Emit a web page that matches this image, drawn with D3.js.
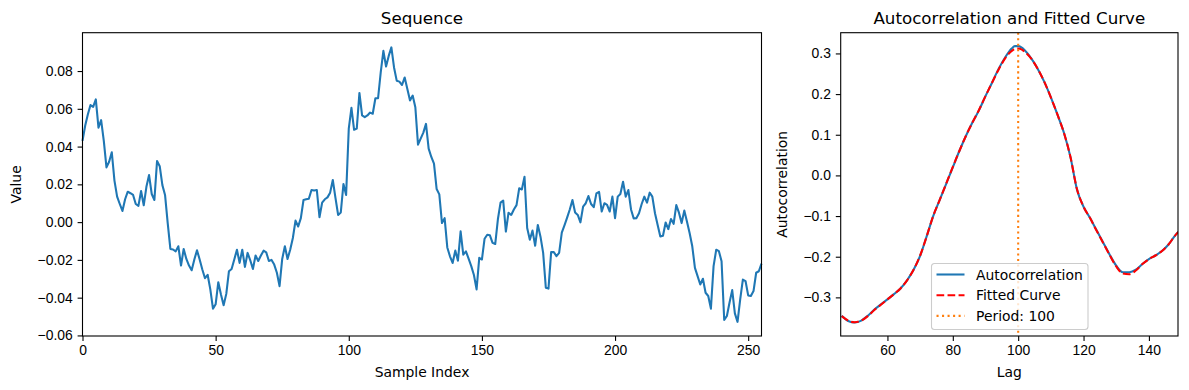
<!DOCTYPE html>
<html>
<head>
<meta charset="utf-8">
<script src="https://cdn.jsdelivr.net/npm/d3@7"></script>
<style>
  body { margin: 0; background: #fff; }
  svg { font-family: "DejaVu Sans", sans-serif; }
  .tick text { font-size: 13.9px; fill: #000; }
  .tick line { stroke: #000; stroke-width: 1.1; }
  .domain { stroke: none; }
</style>
</head>
<body>
<div class="chart"></div>
<script>
var svgWidth = 1189;
var svgHeight = 390;

// Sequence values, one per sample index
var seqValues = [
  0.043, 0.051, 0.057, 0.062, 0.061, 0.065, 0.050, 0.054, 0.043, 0.029,
  0.032, 0.037, 0.022, 0.0135, 0.0096, 0.0059, 0.0121, 0.0161, 0.0153, 0.0144,
  0.0096, 0.0086, 0.0165, 0.0089, 0.0187, 0.0249, 0.0149, 0.0117, 0.0324, 0.0296,
  0.0196, 0.0144, -0.0005, -0.0142, -0.0145, -0.0155, -0.0128, -0.023, -0.0142, -0.0195,
  -0.023, -0.0255, -0.0198, -0.0149, -0.0198, -0.0251, -0.0297, -0.0279, -0.0356, -0.0458,
  -0.0435, -0.0318, -0.0383, -0.044, -0.038, -0.026, -0.0248, -0.0198, -0.0146, -0.0216,
  -0.0146, -0.0237, -0.0163, -0.0202, -0.0248, -0.0177, -0.0206, -0.0177, -0.0151, -0.016,
  -0.0206, -0.02, -0.0225, -0.0268, -0.0339, -0.0195, -0.0128, -0.0195, -0.0146, -0.0084,
  0.0008, -0.0023, 0.0021, 0.0117, 0.0121, 0.0124, 0.017, 0.0167, 0.017, 0.0026,
  0.0103, 0.0121, 0.0131, 0.0156, 0.0223, 0.0128, 0.0038, 0.0051, 0.0202, 0.0144,
  0.0495, 0.0605, 0.0489, 0.0495, 0.0684, 0.0565, 0.0556, 0.0565, 0.058, 0.0574,
  0.0656, 0.0656, 0.0793, 0.0907, 0.0824, 0.088, 0.0925, 0.0819, 0.0749, 0.0744,
  0.0726, 0.0766, 0.0705, 0.0644, 0.067, 0.0608, 0.041, 0.0442, 0.0474, 0.052,
  0.0389, 0.0345, 0.031, 0.0175, 0.0147, -0.0005, 0.0021, -0.0134, -0.0181, -0.0216,
  -0.0151, -0.0204, -0.0049, -0.0172, -0.0155, -0.0193, -0.0233, -0.028, -0.0356, -0.0189,
  -0.0198, -0.0088, -0.0067, -0.007, -0.011, -0.0116, 0.0015, 0.0103, 0.0114, -0.005,
  0.005, 0.0038, 0.0067, 0.009, 0.0179, 0.0173, 0.024, -0.0031, -0.0093, -0.0045,
  -0.0125, -0.0015, -0.0077, -0.0163, -0.0347, -0.0352, -0.0159, -0.0159, -0.018, -0.0163,
  -0.0056, -0.0017, 0.0024, 0.0067, 0.0117, 0.0051, 0.0038, -0.0001, 0.0082, 0.01,
  0.0138, 0.0096, 0.0079, 0.0152, 0.016, 0.0056, 0.01, 0.0091, 0.0056, 0.0135,
  0.0021, 0.0135, 0.0149, 0.0214, 0.0135, 0.017, 0.0067, 0.002, 0.0021, 0.0047,
  0.0096, 0.0135, 0.0103, 0.0156, 0.0135, 0.0047, -0.0015, -0.0076, -0.0072, -0.0002,
  -0.0037, 0.0016, -0.0009, 0.009, 0.005, -0.0005, 0.0061, 0.0003, -0.0058, -0.0128,
  -0.0242, -0.0286, -0.033, -0.03, -0.0374, -0.0391, -0.0458, -0.0233, -0.0146, -0.0154,
  -0.0207, -0.0518, -0.0497, -0.0426, -0.036, -0.0483, -0.0528, -0.0409, -0.0304, -0.0312,
  -0.0388, -0.0391, -0.0365, -0.0268, -0.026, -0.022
];

// Autocorrelation by lag, and the fitted curve on the same lags
var acfLags = [46, 48, 50, 52, 54, 56, 58, 60, 62, 64, 66, 68, 70, 72, 74, 76, 78, 80,
  82, 84, 86, 88, 90, 92, 94, 96, 98, 99, 100, 101, 102, 104, 106, 108, 110, 112, 114,
  116, 118, 120, 122, 124, 126, 128, 130, 132, 134, 136, 138, 140, 142, 144, 146, 148, 149];
var acfValues = [-0.345, -0.358, -0.362, -0.357, -0.345, -0.330, -0.317, -0.305, -0.292,
  -0.278, -0.258, -0.232, -0.198, -0.150, -0.100, -0.060, -0.020, 0.020, 0.060, 0.097,
  0.130, 0.160, 0.195, 0.228, 0.262, 0.290, 0.312, 0.318, 0.318, 0.315, 0.308, 0.288,
  0.262, 0.230, 0.192, 0.150, 0.105, 0.045, -0.035, -0.077, -0.105, -0.135, -0.165,
  -0.195, -0.222, -0.238, -0.238, -0.232, -0.218, -0.206, -0.197, -0.186, -0.170, -0.148, -0.139];
var fitValues = [-0.346, -0.357, -0.361, -0.357, -0.346, -0.331, -0.318, -0.305, -0.292,
  -0.278, -0.258, -0.232, -0.197, -0.150, -0.100, -0.060, -0.020, 0.021, 0.060, 0.097,
  0.130, 0.161, 0.195, 0.228, 0.260, 0.288, 0.306, 0.311, 0.312, 0.310, 0.304, 0.287,
  0.262, 0.230, 0.192, 0.150, 0.105, 0.045, -0.034, -0.077, -0.105, -0.136, -0.166,
  -0.196, -0.224, -0.241, -0.243, -0.234, -0.218, -0.206, -0.197, -0.186, -0.170, -0.148, -0.139];
var periodLag = 100;

var seqXTicks = [0, 50, 100, 150, 200, 250];
var seqYTicks = [-0.06, -0.04, -0.02, 0.00, 0.02, 0.04, 0.06, 0.08];
var acfXTicks = [60, 80, 100, 120, 140];
var acfYTicks = [-0.3, -0.2, -0.1, 0.0, 0.1, 0.2, 0.3];
var legendLabels = ["Autocorrelation", "Fitted Curve", "Period: " + periodLag];

var blue = "#1f77b4";
var red = "#ff0000";
var orange = "#ff7f0e";

// line width 1.5pt at 100 dpi, with matplotlib's dash patterns
var lineWidth = 2.08;
var dashed = "7.7,3.33";
var dotted = "2.08,3.44";

// matplotlib-style minus sign
function fmt(digits) {
  var f = d3.format("." + digits + "f");
  return function (d) { return f(d).replace("-", "\u2212"); };
}

var svg = d3
    .select(".chart")
    .append("svg")
    .attr("width", svgWidth)
    .attr("height", svgHeight);

// ---------- left panel: sequence ----------
var left = { x0: 82.5, x1: 761.5, y0: 32.7, y1: 336 };

var seqX = d3.scaleLinear()
    .domain([0, seqValues.length - 1])
    .range([left.x0, left.x1]);

var seqY = d3.scaleLinear()
    .domain([-0.0603, 0.1003])
    .range([left.y1, left.y0]);

var leftGroup = svg.append("g");

leftGroup.append("g")
    .attr("transform", `translate(0, ${left.y1})`)
    .call(d3.axisBottom(seqX).tickValues(seqXTicks).tickSize(4.9).tickPadding(4.2).tickFormat(d3.format("d")));

leftGroup.append("g")
    .attr("transform", `translate(${left.x0}, 0)`)
    .call(d3.axisLeft(seqY).tickValues(seqYTicks).tickSize(4.9).tickPadding(4.9).tickFormat(fmt(2)));

var seqLine = d3.line()
    .x((d, i) => seqX(i))
    .y(d => seqY(d));

leftGroup.append("path")
    .datum(seqValues)
    .attr("fill", "none")
    .attr("stroke", blue)
    .attr("stroke-width", lineWidth)
    .attr("stroke-linejoin", "round")
    .attr("d", seqLine);

leftGroup.append("rect")
    .attr("x", left.x0)
    .attr("y", left.y0)
    .attr("width", left.x1 - left.x0)
    .attr("height", left.y1 - left.y0)
    .attr("fill", "none")
    .attr("stroke", "#000")
    .attr("stroke-width", 1.1);

leftGroup.append("text")
    .attr("x", (left.x0 + left.x1) / 2)
    .attr("y", 24)
    .attr("text-anchor", "middle")
    .style("font-size", "16.7px")
    .text("Sequence");

leftGroup.append("text")
    .attr("x", (left.x0 + left.x1) / 2)
    .attr("y", 377)
    .attr("text-anchor", "middle")
    .style("font-size", "13.9px")
    .text("Sample Index");

leftGroup.append("text")
    .attr("transform", `translate(21, ${(left.y0 + left.y1) / 2}) rotate(-90)`)
    .attr("text-anchor", "middle")
    .style("font-size", "13.9px")
    .text("Value");

// ---------- right panel: autocorrelation ----------
var right = { x0: 840.7, x1: 1178, y0: 32.7, y1: 336 };

var acfX = d3.scaleLinear()
    .domain([45.7, 148.9])
    .range([right.x0, right.x1]);

var acfY = d3.scaleLinear()
    .domain([-0.395, 0.351])
    .range([right.y1, right.y0]);

var rightGroup = svg.append("g");

rightGroup.append("g")
    .attr("transform", `translate(0, ${right.y1})`)
    .call(d3.axisBottom(acfX).tickValues(acfXTicks).tickSize(4.9).tickPadding(4.2).tickFormat(d3.format("d")));

rightGroup.append("g")
    .attr("transform", `translate(${right.x0}, 0)`)
    .call(d3.axisLeft(acfY).tickValues(acfYTicks).tickSize(4.9).tickPadding(4.9).tickFormat(fmt(1)));

svg.append("clipPath").attr("id", "acf-clip")
    .append("rect")
    .attr("x", right.x0)
    .attr("y", right.y0)
    .attr("width", right.x1 - right.x0)
    .attr("height", right.y1 - right.y0);

var acfLine = d3.line()
    .curve(d3.curveMonotoneX)
    .x((d, i) => acfX(acfLags[i]))
    .y(d => acfY(d));

var plotArea = rightGroup.append("g").attr("clip-path", "url(#acf-clip)");

plotArea.append("path")
    .datum(acfValues)
    .attr("fill", "none")
    .attr("stroke", blue)
    .attr("stroke-width", lineWidth)
    .attr("d", acfLine);

plotArea.append("path")
    .datum(fitValues)
    .attr("fill", "none")
    .attr("stroke", red)
    .attr("stroke-width", lineWidth)
    .attr("stroke-dasharray", dashed)
    .attr("d", acfLine);

plotArea.append("line")
    .attr("x1", acfX(periodLag))
    .attr("x2", acfX(periodLag))
    .attr("y1", right.y0)
    .attr("y2", right.y1)
    .attr("stroke", orange)
    .attr("stroke-width", lineWidth)
    .attr("stroke-dasharray", dotted);

rightGroup.append("rect")
    .attr("x", right.x0)
    .attr("y", right.y0)
    .attr("width", right.x1 - right.x0)
    .attr("height", right.y1 - right.y0)
    .attr("fill", "none")
    .attr("stroke", "#000")
    .attr("stroke-width", 1.1);

rightGroup.append("text")
    .attr("x", (right.x0 + right.x1) / 2)
    .attr("y", 24)
    .attr("text-anchor", "middle")
    .style("font-size", "16.7px")
    .text("Autocorrelation and Fitted Curve");

rightGroup.append("text")
    .attr("x", (right.x0 + right.x1) / 2)
    .attr("y", 377)
    .attr("text-anchor", "middle")
    .style("font-size", "13.9px")
    .text("Lag");

rightGroup.append("text")
    .attr("transform", `translate(787, ${(right.y0 + right.y1) / 2}) rotate(-90)`)
    .attr("text-anchor", "middle")
    .style("font-size", "13.9px")
    .text("Autocorrelation");

// legend
var legend = rightGroup.append("g")
    .attr("transform", "translate(931.5, 263.5)");

legend.append("rect")
    .attr("width", 156.5)
    .attr("height", 66)
    .attr("rx", 3)
    .attr("fill", "#fff")
    .attr("fill-opacity", 0.8)
    .attr("stroke", "#cccccc")
    .attr("stroke-width", 1.1);

var legendStyles = [
  { color: blue, dash: null },
  { color: red, dash: dashed },
  { color: orange, dash: dotted }
];

legendLabels.forEach(function (label, i) {
    var y = 11 + i * 20.7;
    legend.append("line")
        .attr("x1", 5)
        .attr("x2", 33)
        .attr("y1", y)
        .attr("y2", y)
        .attr("stroke", legendStyles[i].color)
        .attr("stroke-width", lineWidth)
        .attr("stroke-dasharray", legendStyles[i].dash);
    legend.append("text")
        .attr("x", 44.5)
        .attr("y", y + 5)
        .style("font-size", "13.9px")
        .text(label);
});
</script>
</body>
</html>
